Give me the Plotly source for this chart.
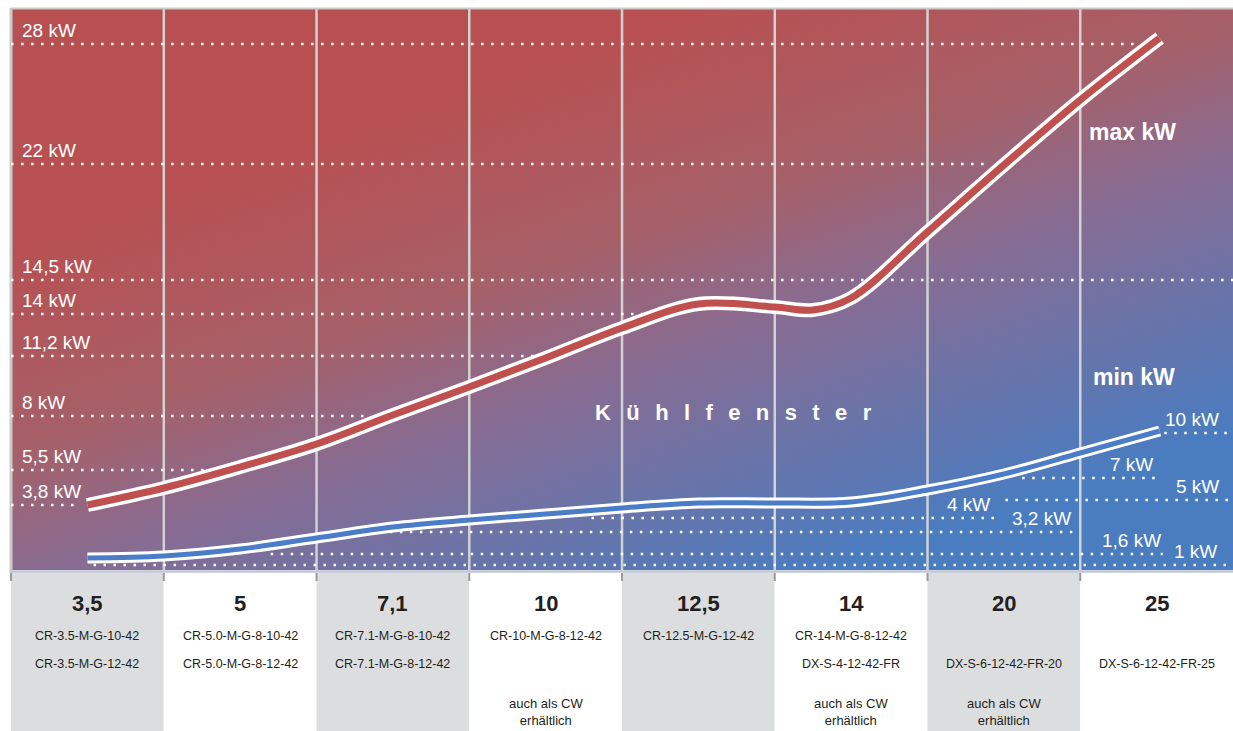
import base64
import plotly.graph_objects as go

# ---------------- data ----------------
categories = ["3,5", "5", "7,1", "10", "12,5", "14", "20", "25"]
models_line1 = ["CR-3.5-M-G-10-42", "CR-5.0-M-G-8-10-42", "CR-7.1-M-G-8-10-42",
                "CR-10-M-G-8-12-42", "CR-12.5-M-G-12-42", "CR-14-M-G-8-12-42", "", ""]
models_line2 = ["CR-3.5-M-G-12-42", "CR-5.0-M-G-8-12-42", "CR-7.1-M-G-8-12-42",
                "", "", "DX-S-4-12-42-FR", "DX-S-6-12-42-FR-20", "DX-S-6-12-42-FR-25"]
cw_available = [False, False, False, True, False, True, True, False]
cw_text = "auch als CW<br>erhältlich"

# curves, on the chart's schematic kW scale (x in category units)
max_x = [0, 0.5, 1, 1.5, 2, 2.5, 3, 3.5, 4, 4.5, 4.75, 5, 5.5, 6, 6.5, 7.02]
max_kw = [65, 82, 103, 126, 155, 183, 212, 242, 266, 263, 260, 272, 338, 405, 470, 532]
min_x = [0, 0.5, 1, 1.5, 2, 2.5, 3, 3.5, 4, 4.5, 5, 5.5, 6, 6.5, 7.02]
min_kw = [12, 14, 21, 32, 43, 50, 56, 62, 67, 67, 68, 80, 96, 117, 139]

# kW guide lines (label, schematic level, extent in category units)
left_labels = ["28 kW", "22 kW", "14,5 kW", "14 kW", "11,2 kW", "8 kW", "5,5 kW", "3,8 kW"]
left_levels = [526, 406, 290, 256, 214, 154, 100, 65]
left_end = [6.86, 5.91, 7.5, 3.68, 2.98, 1.85, 0.87, -0.05]

right_labels = ["10 kW", "7 kW", "5 kW", "4 kW", "3,2 kW", "1,6 kW", "1 kW"]
right_levels = [137, 92, 70, 52, 38, 16, 5]
right_start = [7.05, 6.12, 6.01, 3.30, 1.98, 1.20, 0.04]
right_end = [7.5, 7.01, 7.5, 5.96, 6.47, 7.04, 7.5]
right_label_x = [7.42, 6.99, 7.42, 5.92, 6.45, 7.04, 7.41]

# ---------------- styling ----------------
FONT = "Liberation Sans, Arial, sans-serif"
RED = "#C0504D"
BLUE = "#4A7CC8"
GRAY_COL = "#DCDDDF"
TXT = "#231F20"
TOP = 561
BOTTOM = -161

svg = (
    '<svg xmlns="http://www.w3.org/2000/svg" width="1222" height="561" viewBox="0 0 1222 561" '
    'preserveAspectRatio="none"><defs><linearGradient id="g" gradientUnits="userSpaceOnUse" '
    'x1="75" y1="215" x2="264" y2="755">'
    '<stop offset="0" stop-color="#B85052"/>'
    '<stop offset="0.33" stop-color="#A66068"/>'
    '<stop offset="0.55" stop-color="#886C92"/>'
    '<stop offset="1" stop-color="#4A7CC0"/>'
    '</linearGradient></defs><rect width="1222" height="561" fill="url(#g)"/></svg>'
)
src = "data:image/svg+xml;base64," + base64.b64encode(svg.encode()).decode()

fig = go.Figure()

# curves: white outline then colored core
fig.add_trace(go.Scatter(x=max_x, y=max_kw, mode="lines", hoverinfo="skip",
                         line=dict(color="white", width=14, shape="spline", smoothing=1)))
fig.add_trace(go.Scatter(x=max_x, y=max_kw, mode="lines", hoverinfo="skip", name="max kW",
                         line=dict(color=RED, width=7, shape="spline", smoothing=1)))
fig.add_trace(go.Scatter(x=min_x, y=min_kw, mode="lines", hoverinfo="skip",
                         line=dict(color="white", width=11, shape="spline", smoothing=1)))
fig.add_trace(go.Scatter(x=min_x, y=min_kw, mode="lines", hoverinfo="skip", name="min kW",
                         line=dict(color=BLUE, width=5, shape="spline", smoothing=1)))

shapes = []
# table column backgrounds
for i in range(len(categories)):
    shapes.append(dict(type="rect", xref="x", yref="y", x0=i - 0.5, x1=i + 0.5, y0=BOTTOM, y1=-3,
                       fillcolor=GRAY_COL if i % 2 == 0 else "white", line=dict(width=0), layer="below"))
# vertical separators
for i in range(len(categories) - 1):
    shapes.append(dict(type="line", xref="x", yref="y", x0=i + 0.5, x1=i + 0.5, y0=0, y1=TOP,
                       line=dict(color="#D2D2D2", width=2.5), layer="between"))
for i in range(len(categories)):
    shapes.append(dict(type="line", xref="x", yref="y", x0=i - 0.5, x1=i - 0.5, y0=-3, y1=-11,
                       line=dict(color="#9A9A9A", width=2), layer="between"))
# frame
shapes.append(dict(type="line", xref="x", yref="y", x0=-0.5, x1=-0.5, y0=-3, y1=TOP + 1,
                   line=dict(color="#C9C9C9", width=3), layer="between"))
shapes.append(dict(type="line", xref="x", yref="y", x0=-0.5, x1=7.5, y0=TOP + 0.5, y1=TOP + 0.5,
                   line=dict(color="#C9C9C9", width=2), layer="between"))
shapes.append(dict(type="line", xref="x", yref="y", x0=-0.5, x1=7.5, y0=-1.5, y1=-1.5,
                   line=dict(color="#BFC6D6", width=2.5), layer="between"))
# dotted guides
DOT = dict(color="white", width=2.5, dash="2.5px,7.5px")
for lv, xe in zip(left_levels, left_end):
    shapes.append(dict(type="line", xref="x", yref="y", x0=-0.5, x1=xe, y0=lv, y1=lv,
                       line=DOT, layer="between"))
for lv, xs, xe in zip(right_levels, right_start, right_end):
    shapes.append(dict(type="line", xref="x", yref="y", x0=xs, x1=xe, y0=lv, y1=lv,
                       line=DOT, layer="between"))

ann = []
for lab, lv in zip(left_labels, left_levels):
    ann.append(dict(x=-0.44, y=lv, text=lab, xanchor="left", yanchor="middle", yshift=14,
                    showarrow=False, font=dict(family=FONT, size=19, color="white")))
for lab, lv, lx in zip(right_labels, right_levels, right_label_x):
    ann.append(dict(x=lx, y=lv, text=lab, xanchor="right", yanchor="middle", yshift=14,
                    showarrow=False, font=dict(family=FONT, size=19, color="white")))

ann.append(dict(x=6.84, y=438, text="<b>max kW</b>", showarrow=False,
                font=dict(family=FONT, size=23, color="white")))
ann.append(dict(x=6.85, y=193, text="<b>min kW</b>", showarrow=False,
                font=dict(family=FONT, size=23, color="white")))
ann.append(dict(x=4.23, y=158, text="<b>" + "\u2002\u2009".join("Kühlfenster") + "</b>",
                showarrow=False, font=dict(family=FONT, size=22, color="white")))

for i, c in enumerate(categories):
    ann.append(dict(x=i, y=-33, text="<b>" + c + "</b>", showarrow=False,
                    font=dict(family=FONT, size=22, color=TXT)))
    if models_line1[i]:
        ann.append(dict(x=i, y=-66, text=models_line1[i], showarrow=False,
                        font=dict(family=FONT, size=12.5, color=TXT)))
    if models_line2[i]:
        ann.append(dict(x=i, y=-94, text=models_line2[i], showarrow=False,
                        font=dict(family=FONT, size=12.5, color=TXT)))
    if cw_available[i]:
        ann.append(dict(x=i, y=-141.5, text=cw_text, showarrow=False,
                        font=dict(family=FONT, size=13, color=TXT)))

fig.update_layout(
    width=1233, height=731,
    margin=dict(l=8, r=0, t=7, b=0, pad=0),
    paper_bgcolor="white", plot_bgcolor="white",
    showlegend=False,
    xaxis=dict(range=[-0.52, 7.5], visible=False, fixedrange=True),
    yaxis=dict(range=[BOTTOM, TOP + 2], visible=False, fixedrange=True),
    images=[dict(source=src, xref="x", yref="y", x=-0.5, y=TOP, sizex=8, sizey=TOP,
                 xanchor="left", yanchor="top", sizing="stretch", layer="below")],
    shapes=shapes,
    annotations=ann,
)

fig.write_html("out.html", config={"displayModeBar": False},
               post_script="document.body.style.margin='0';")
